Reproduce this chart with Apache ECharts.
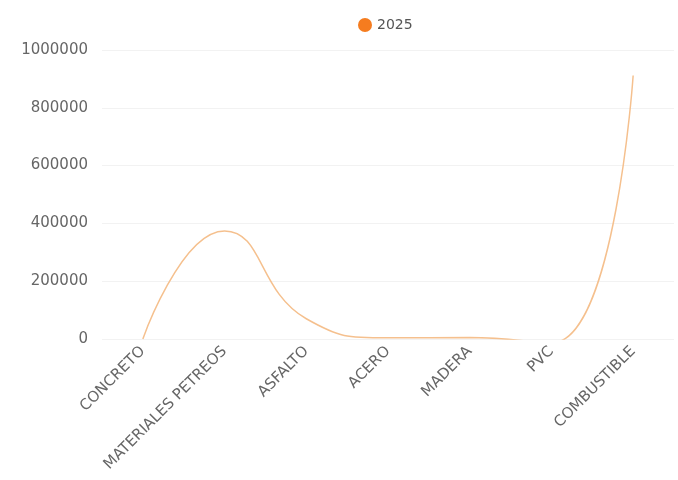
<!DOCTYPE html>
<html><head><meta charset="utf-8">
<script src="https://cdn.jsdelivr.net/npm/echarts@6/dist/echarts.min.js"></script>
<style>html,body{margin:0;padding:0;background:#fff}#c{width:678px;height:480px}</style>
</head><body><div id="c"></div>
<script>
const categories = ['CONCRETO','MATERIALES PETREOS','ASFALTO','ACERO','MADERA','PVC','COMBUSTIBLE'];
const seriesName = '2025';
const values = [0, 374000, 70000, 4000, 5000, -14000, 912000];
const yTicks = [0, 200000, 400000, 600000, 800000, 1000000];

const chart = echarts.init(document.getElementById('c'));
chart.setOption({
  animation: false,
  textStyle: { fontFamily: 'DejaVu Sans' },
  legend: {
    top: 13, left: 353, icon: 'circle', itemWidth: 14, itemHeight: 14,
    textStyle: { color: '#555', fontSize: 14, fontFamily: 'DejaVu Sans' },
    data: [seriesName]
  },
  grid: { left: 102, right: 4, top: 50, bottom: 141 },
  xAxis: {
    type: 'category', data: categories, boundaryGap: true,
    axisLine: { show: false }, axisTick: { show: false },
    axisLabel: { rotate: 45, color: '#666', fontSize: 15, margin: 10, interval: 0 }
  },
  yAxis: {
    type: 'value', min: yTicks[0], max: yTicks[yTicks.length-1], interval: 200000,
    axisLine: { show: false }, axisTick: { show: false },
    axisLabel: { color: '#666', fontSize: 15, margin: 14, formatter: v => String(v) },
    splitLine: { lineStyle: { color: '#f2f2f2' } }
  },
  series: [{
    name: seriesName, type: 'line', smooth: true, data: values,
    showSymbol: false, symbol: 'circle',
    itemStyle: { color: '#f57c1f' },
    lineStyle: { color: '#f5c08e', width: 1.5 }
  }]
});
</script></body></html>
